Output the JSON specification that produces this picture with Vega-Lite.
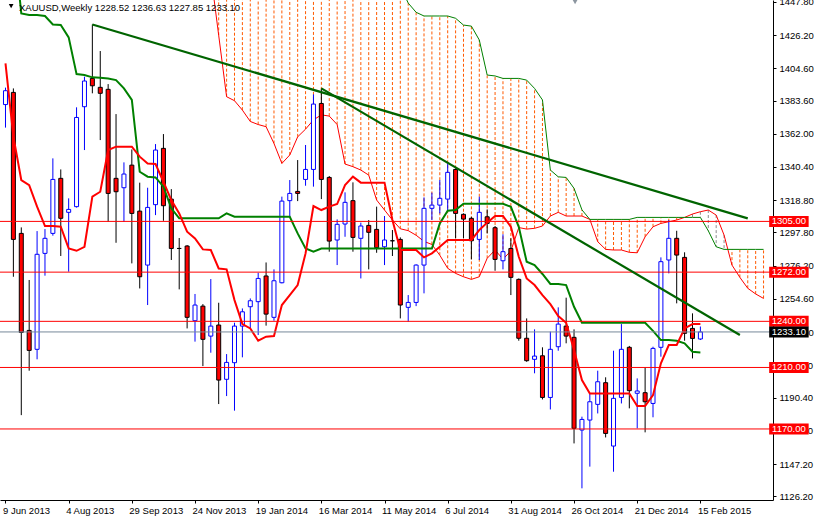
{
  "$schema": "https://vega.github.io/schema/vega-lite/v6.json",
  "width": 773,
  "height": 500,
  "autosize": {"type": "none"},
  "padding": {"left": 0, "top": 0, "right": 41, "bottom": 16},
  "background": "white",
  "config": {
    "view": {"stroke": null},
    "text": {"font": "Liberation Sans"},
    "axis": {"labelOverlap": false, "labelFlush": false}
  },
  "datasets": {
    "bars": [
      {"d":"2013-06-09","o":1381,"h":1392,"l":1366,"c":1390,"t":1407.8,"k":1490},
      {"d":"2013-06-16","o":1388.9,"h":1391.5,"l":1269.0,"c":1293.3,"t":1360.1,"k":1490},
      {"d":"2013-06-23","o":1297.2,"h":1301.1,"l":1179.0,"c":1232.8,"t":1331.9,"k":1440.3},
      {"d":"2013-06-30","o":1234.1,"h":1266.9,"l":1207.9,"c":1221.1,"t":1328.6,"k":1439.2},
      {"d":"2013-07-07","o":1221.8,"h":1298.7,"l":1215.3,"c":1283.6,"t":1314.6,"k":1439.2},
      {"d":"2013-07-14","o":1284.2,"h":1300.0,"l":1269.7,"c":1294.0,"t":1302.0,"k":1438.6},
      {"d":"2013-07-21","o":1297.2,"h":1346.0,"l":1295.7,"c":1332.3,"t":1302.0,"k":1433.1},
      {"d":"2013-07-28","o":1333.0,"h":1338.8,"l":1282.5,"c":1307.0,"t":1301.6,"k":1432.7},
      {"d":"2013-08-04","o":1310.9,"h":1320.0,"l":1272.3,"c":1312.8,"t":1287.4,"k":1424.7},
      {"d":"2013-08-11","o":1314.6,"h":1379.2,"l":1314.0,"c":1372.6,"t":1285.9,"k":1400.8},
      {"d":"2013-08-18","o":1379.6,"h":1399.1,"l":1351.4,"c":1396.3,"t":1288.5,"k":1400.2},
      {"d":"2013-08-25","o":1398.0,"h":1433.1,"l":1388.3,"c":1393.2,"t":1321.1,"k":1398.7},
      {"d":"2013-09-01","o":1392.2,"h":1415.8,"l":1357.9,"c":1388.3,"t":1324.3,"k":1398.5},
      {"d":"2013-09-08","o":1390.9,"h":1394.3,"l":1304.8,"c":1323.2,"t":1351.4,"k":1398.0},
      {"d":"2013-09-15","o":1333.0,"h":1374.8,"l":1291.1,"c":1324.3,"t":1353.6,"k":1396.9},
      {"d":"2013-09-22","o":1326.9,"h":1343.4,"l":1304.8,"c":1335.8,"t":1353.6,"k":1391.5},
      {"d":"2013-09-29","o":1341.6,"h":1351.8,"l":1277.7,"c":1310.2,"t":1353.6,"k":1384.0},
      {"d":"2013-10-06","o":1311.7,"h":1330.2,"l":1261.4,"c":1269.0,"t":1347.1,"k":1337.3},
      {"d":"2013-10-13","o":1276.6,"h":1326.9,"l":1250.6,"c":1314.1,"t":1342.7,"k":1334.1},
      {"d":"2013-10-20","o":1315.9,"h":1355.3,"l":1309.1,"c":1351.4,"t":1342.3,"k":1333.6},
      {"d":"2013-10-27","o":1352.5,"h":1361.8,"l":1305.4,"c":1315.2,"t":1330.8,"k":1327.6},
      {"d":"2013-11-03","o":1319.5,"h":1326.0,"l":1279.9,"c":1287.4,"t":1318.9,"k":1313.5},
      {"d":"2013-11-10","o":1287.4,"h":1294.2,"l":1260.8,"c":1287.4,"t":1310.2,"k":1307.0},
      {"d":"2013-11-17","o":1289.0,"h":1289.6,"l":1235.4,"c":1242.6,"t":1298.3,"k":1307.0},
      {"d":"2013-11-24","o":1240.4,"h":1257.8,"l":1226.8,"c":1250.6,"t":1293.9,"k":1307.0},
      {"d":"2013-12-01","o":1249.9,"h":1251.2,"l":1210.9,"c":1228.3,"t":1286.8,"k":1307.0},
      {"d":"2013-12-08","o":1230.4,"h":1267.5,"l":1219.6,"c":1236.9,"t":1286.4,"k":1307.0,"sa":1466,"sb":1470},
      {"d":"2013-12-15","o":1237.6,"h":1252.1,"l":1186.2,"c":1201.8,"t":1274.4,"k":1307.0,"sa":1426,"sb":1470},
      {"d":"2013-12-22","o":1202.3,"h":1218.7,"l":1191.4,"c":1213.3,"t":1273.8,"k":1310.2,"sa":1386.1,"sb":1470},
      {"d":"2013-12-29","o":1213.1,"h":1239.1,"l":1181.9,"c":1236.9,"t":1253.8,"k":1308.0,"sa":1383.5,"sb":1470},
      {"d":"2014-01-05","o":1236.9,"h":1248.4,"l":1216.6,"c":1246.2,"t":1238.2,"k":1308.0,"sa":1377.4,"sb":1470},
      {"d":"2014-01-12","o":1249.5,"h":1254.9,"l":1235.4,"c":1253.4,"t":1235.4,"k":1308.0,"sa":1370,"sb":1470},
      {"d":"2014-01-19","o":1252.8,"h":1271.6,"l":1231.1,"c":1267.9,"t":1227.4,"k":1308.0,"sa":1368,"sb":1470},
      {"d":"2014-01-26","o":1269.5,"h":1278.3,"l":1237.2,"c":1244.7,"t":1230.0,"k":1308.0,"sa":1366.6,"sb":1470},
      {"d":"2014-02-02","o":1242.6,"h":1273.8,"l":1240.4,"c":1266.4,"t":1230.4,"k":1308.0,"sa":1355.7,"sb":1470},
      {"d":"2014-02-09","o":1265.1,"h":1321.1,"l":1264.7,"c":1318.2,"t":1250.6,"k":1308.0,"sa":1342.7,"sb":1470},
      {"d":"2014-02-16","o":1318.5,"h":1331.9,"l":1308.0,"c":1323.2,"t":1257.1,"k":1308.0,"sa":1348.2,"sb":1470},
      {"d":"2014-02-23","o":1324.5,"h":1344.9,"l":1318.2,"c":1323.2,"t":1263.6,"k":1297.2,"sa":1360,"sb":1470},
      {"d":"2014-03-02","o":1332.3,"h":1354.7,"l":1328.2,"c":1338.8,"t":1284.2,"k":1287.4,"sa":1365,"sb":1470},
      {"d":"2014-03-09","o":1338.8,"h":1387.6,"l":1327.6,"c":1381.3,"t":1315.0,"k":1285.3,"sa":1371,"sb":1470},
      {"d":"2014-03-16","o":1381.7,"h":1391.5,"l":1319.5,"c":1332.3,"t":1312.4,"k":1287.4,"sa":1374.3,"sb":1470},
      {"d":"2014-03-23","o":1333.6,"h":1334.5,"l":1285.3,"c":1292.2,"t":1314.6,"k":1287.4,"sa":1373.5,"sb":1470},
      {"d":"2014-03-30","o":1292.9,"h":1306.3,"l":1276.6,"c":1303.1,"t":1316.3,"k":1287.4,"sa":1368,"sb":1470},
      {"d":"2014-04-06","o":1303.3,"h":1323.9,"l":1295.0,"c":1317.4,"t":1328.6,"k":1287.4,"sa":1342.3,"sb":1470},
      {"d":"2014-04-13","o":1318.5,"h":1330.4,"l":1285.3,"c":1294.6,"t":1334.1,"k":1287.4,"sa":1340.6,"sb":1470},
      {"d":"2014-04-20","o":1294.0,"h":1304.2,"l":1267.9,"c":1302.0,"t":1330.2,"k":1287.4,"sa":1338.4,"sb":1470},
      {"d":"2014-04-27","o":1302.4,"h":1305.9,"l":1273.8,"c":1297.9,"t":1330.2,"k":1287.4,"sa":1335.1,"sb":1470},
      {"d":"2014-05-04","o":1299.8,"h":1314.6,"l":1284.6,"c":1287.9,"t":1330.2,"k":1287.4,"sa":1318.9,"sb":1470},
      {"d":"2014-05-11","o":1288.5,"h":1308.5,"l":1276.6,"c":1292.9,"t":1330.2,"k":1287.4,"sa":1312.4,"sb":1470},
      {"d":"2014-05-18","o":1292.4,"h":1299.4,"l":1282.5,"c":1292.4,"t":1305.9,"k":1287.4,"sa":1305.9,"sb":1470},
      {"d":"2014-05-25","o":1293.3,"h":1294.6,"l":1241.9,"c":1250.6,"t":1286.4,"k":1287.4,"sa":1300.2,"sb":1458},
      {"d":"2014-06-01","o":1249.1,"h":1257.1,"l":1239.8,"c":1252.3,"t":1286.4,"k":1287.4,"sa":1299,"sb":1447},
      {"d":"2014-06-08","o":1252.3,"h":1277.1,"l":1249.9,"c":1276.6,"t":1286.4,"k":1287.4,"sa":1296,"sb":1441},
      {"d":"2014-06-15","o":1276.6,"h":1320.6,"l":1258.2,"c":1313.5,"t":1281.6,"k":1287.4,"sa":1292,"sb":1438.6},
      {"d":"2014-06-22","o":1313.5,"h":1323.7,"l":1305.9,"c":1315.6,"t":1284.2,"k":1287.4,"sa":1290,"sb":1438.6},
      {"d":"2014-06-29","o":1315.6,"h":1331.9,"l":1310.2,"c":1320.0,"t":1288.5,"k":1303.7,"sa":1283,"sb":1438.6},
      {"d":"2014-07-06","o":1319.5,"h":1342.7,"l":1312.4,"c":1336.9,"t":1292.9,"k":1312.0,"sa":1274.5,"sb":1438.6},
      {"d":"2014-07-13","o":1338.8,"h":1339.5,"l":1294.0,"c":1310.2,"t":1292.9,"k":1312.4,"sa":1271.2,"sb":1437.1},
      {"d":"2014-07-20","o":1309.6,"h":1310.2,"l":1294.0,"c":1306.5,"t":1292.9,"k":1316.5,"sa":1269,"sb":1432.7},
      {"d":"2014-07-27","o":1307.0,"h":1308.0,"l":1280.3,"c":1292.4,"t":1292.9,"k":1316.5,"sa":1267.3,"sb":1432.0},
      {"d":"2014-08-03","o":1293.3,"h":1321.1,"l":1279.9,"c":1310.9,"t":1299.4,"k":1316.5,"sa":1269,"sb":1423},
      {"d":"2014-08-10","o":1308.0,"h":1312.8,"l":1297.2,"c":1303.7,"t":1304.2,"k":1316.5,"sa":1281,"sb":1400.2},
      {"d":"2014-08-17","o":1300.9,"h":1302.0,"l":1272.9,"c":1280.3,"t":1308.5,"k":1316.5,"sa":1286.4,"sb":1399.6},
      {"d":"2014-08-24","o":1279.4,"h":1296.6,"l":1273.8,"c":1285.3,"t":1308.5,"k":1316.5,"sa":1280.4,"sb":1398.0},
      {"d":"2014-08-31","o":1287.4,"h":1294.0,"l":1257.1,"c":1268.6,"t":1301.5,"k":1314.5,"sa":1285.8,"sb":1398.0},
      {"d":"2014-09-07","o":1267.3,"h":1267.9,"l":1227.4,"c":1229.0,"t":1282.0,"k":1301.5,"sa":1301,"sb":1398.0},
      {"d":"2014-09-14","o":1229.0,"h":1241.9,"l":1213.7,"c":1214.4,"t":1267.9,"k":1278.8,"sa":1300,"sb":1396.9},
      {"d":"2014-09-21","o":1215.3,"h":1234.8,"l":1206.2,"c":1217.4,"t":1263.6,"k":1276.6,"sa":1300.5,"sb":1391.5},
      {"d":"2014-09-28","o":1217.6,"h":1223.1,"l":1189.2,"c":1190.5,"t":1257.1,"k":1270.8,"sa":1302,"sb":1384},
      {"d":"2014-10-05","o":1190.5,"h":1233.3,"l":1182.7,"c":1221.8,"t":1251.2,"k":1264.3,"sa":1308.5,"sb":1338.4},
      {"d":"2014-10-12","o":1223.5,"h":1249.1,"l":1220.9,"c":1238.2,"t":1243.4,"k":1264.3,"sa":1310.9,"sb":1334.0},
      {"d":"2014-10-19","o":1236.9,"h":1255.4,"l":1225.7,"c":1230.4,"t":1239.1,"k":1263.6,"sa":1308.5,"sb":1333.6},
      {"d":"2014-10-26","o":1229.6,"h":1234.8,"l":1160.6,"c":1170.4,"t":1221.3,"k":1249.5,"sa":1308.5,"sb":1326.5},
      {"d":"2014-11-02","o":1169.3,"h":1178.0,"l":1131.4,"c":1176.2,"t":1201.8,"k":1239.1,"sa":1308.5,"sb":1312.5},
      {"d":"2014-11-09","o":1175.8,"h":1193.2,"l":1145.5,"c":1187.7,"t":1193.1,"k":1239.1,"sa":1306.3,"sb":1306.3},
      {"d":"2014-11-16","o":1186.0,"h":1207.9,"l":1180.1,"c":1200.7,"t":1193.1,"k":1239.1,"sa":1291.8,"sb":1306.3},
      {"d":"2014-11-23","o":1200.1,"h":1203.6,"l":1164.5,"c":1167.1,"t":1193.1,"k":1239.1,"sa":1286.8,"sb":1306.3},
      {"d":"2014-11-30","o":1158.9,"h":1220.9,"l":1142.2,"c":1189.9,"t":1193.1,"k":1239.1,"sa":1286.4,"sb":1306.3},
      {"d":"2014-12-07","o":1190.5,"h":1238.2,"l":1186.6,"c":1221.8,"t":1193.1,"k":1239.1,"sa":1286.4,"sb":1306.3},
      {"d":"2014-12-14","o":1223.1,"h":1224.0,"l":1183.4,"c":1194.9,"t":1193.1,"k":1239.1,"sa":1284.9,"sb":1306.3},
      {"d":"2014-12-21","o":1193.2,"h":1202.9,"l":1170.4,"c":1194.7,"t":1184.9,"k":1239.1,"sa":1284.6,"sb":1307.6},
      {"d":"2014-12-28","o":1193.6,"h":1210.0,"l":1167.8,"c":1187.7,"t":1184.9,"k":1239.1,"sa":1295,"sb":1307.6},
      {"d":"2015-01-04","o":1186.6,"h":1223.5,"l":1177.6,"c":1222.4,"t":1192,"k":1233.8,"sa":1301.5,"sb":1307.6},
      {"d":"2015-01-11","o":1223.1,"h":1281.6,"l":1217.0,"c":1278.8,"t":1212.7,"k":1227.8,"sa":1303.7,"sb":1307.6},
      {"d":"2015-01-18","o":1279.9,"h":1305.9,"l":1271.2,"c":1294.0,"t":1224.6,"k":1227.8,"sa":1304.8,"sb":1307.6},
      {"d":"2015-01-25","o":1294.0,"h":1298.9,"l":1251.7,"c":1283.1,"t":1224.6,"k":1227.4,"sa":1305.9,"sb":1307.6},
      {"d":"2015-02-01","o":1281.6,"h":1284.9,"l":1227.4,"c":1232.2,"t":1235.4,"k":1225.7,"sa":1307.6,"sb":1307.6},
      {"d":"2015-02-08","o":1235.4,"h":1245.2,"l":1215.9,"c":1228.9,"t":1238.2,"k":1220.2,"sa":1309.8,"sb":1307.6},
      {"d":"2015-02-15","o":1228.52,"h":1236.63,"l":1227.85,"c":1233.10,"t":1238.2,"k":1219.8,"sa":1311.3,"sb":1307.6},
      {"d":"2015-02-22","sa":1312.4,"sb":1298.9},
      {"d":"2015-03-01","sa":1309.1,"sb":1288.5},
      {"d":"2015-03-08","sa":1296.1,"sb":1286.8},
      {"d":"2015-03-15","sa":1276.6,"sb":1286.8},
      {"d":"2015-03-22","sa":1268.6,"sb":1286.8},
      {"d":"2015-03-29","sa":1261.5,"sb":1286.8},
      {"d":"2015-04-05","sa":1257.8,"sb":1286.8},
      {"d":"2015-04-12","sa":1254.9,"sb":1286.8}
    ],
    "levels": [
      {"lv":1305,"txt":"1305.00","kind":"r"},
      {"lv":1272,"txt":"1272.00","kind":"r"},
      {"lv":1240,"txt":"1240.00","kind":"r"},
      {"lv":1210,"txt":"1210.00","kind":"r"},
      {"lv":1170,"txt":"1170.00","kind":"r"},
      {"lv":1233.1,"txt":"1233.10","kind":"g"}
    ],
    "trends": [
      {"id":1,"d":"2013-08-25","p":1433.1},
      {"id":1,"d":"2015-03-29","p":1307.0},
      {"id":2,"d":"2014-03-16","p":1391.5},
      {"id":2,"d":"2015-03-22","p":1231.1}
    ]
  },
  "layer": [
    {
      "data": {"name": "bars"},
      "transform": [{"filter": "isValid(datum.sa)"}],
      "mark": {"type": "rule", "clip": true, "strokeWidth": 1, "strokeDash": [3, 2]},
      "encoding": {
        "x": {"field": "d", "type": "temporal", "title": null,
          "scale": {"type": "utc", "domain": [1370698200000, 1429137000000]},
          "axis": {
            "values": [
              {"year":2013,"month":6,"date":9,"utc":true},
              {"year":2013,"month":8,"date":4,"utc":true},
              {"year":2013,"month":9,"date":29,"utc":true},
              {"year":2013,"month":11,"date":24,"utc":true},
              {"year":2014,"month":1,"date":19,"utc":true},
              {"year":2014,"month":3,"date":16,"utc":true},
              {"year":2014,"month":5,"date":11,"utc":true},
              {"year":2014,"month":7,"date":6,"utc":true},
              {"year":2014,"month":8,"date":31,"utc":true},
              {"year":2014,"month":10,"date":26,"utc":true},
              {"year":2014,"month":12,"date":21,"utc":true},
              {"year":2015,"month":2,"date":15,"utc":true}
            ],
            "tickCount": 30,
            "format": "%-d %b %Y", "labelAlign": "left", "labelOffset": -3, "labelFont": "Liberation Sans",
            "labelFontSize": 9.5, "labelColor": "#000000", "tickColor": "#000000",
            "domainColor": "#000000", "tickSize": 3, "labelPadding": 2, "grid": false,
            "labelOverlap": false, "labelFlush": false, "title": null
          }
        },
        "y": {"field": "sa", "type": "quantitative", "title": null,
          "scale": {"domain": [1123.8, 1449.0], "zero": false, "nice": false},
          "axis": {
            "orient": "right",
            "values": [1126.2,1147.2,1168.8,1190.4,1211.4,1233.0,1254.6,1276.2,1297.8,1318.8,1340.4,1362.0,1383.6,1404.6,1426.2,1447.8],
            "tickCount": 30,
            "format": ".2f", "labelFont": "Liberation Sans", "labelFontSize": 9.5,
            "labelColor": "#000000", "tickColor": "#000000", "domainColor": "#000000",
            "tickSize": 3, "labelPadding": 3, "grid": false, "title": null,
            "labelOverlap": false, "labelFlush": false, "labelBound": false
          }
        },
        "y2": {"field": "sb"},
        "color": {"condition": {"test": "datum.sa > datum.sb", "value": "#8C8C8C"}, "value": "#FF5A00"}
      }
    },
    {
      "data": {"name": "bars"},
      "transform": [{"filter": "isValid(datum.sa)"}],
      "mark": {"type": "line", "clip": true, "strokeWidth": 1, "color": "#FF0000"},
      "encoding": {
        "x": {"field": "d", "type": "temporal", "title": null, "scale": {"type": "utc", "domain": [1370698200000, 1429137000000]}},
        "y": {"field": "sa", "type": "quantitative", "title": null, "scale": {"domain": [1123.8, 1449.0], "zero": false, "nice": false}}
      }
    },
    {
      "data": {"name": "bars"},
      "transform": [{"filter": "isValid(datum.sb)"}],
      "mark": {"type": "line", "clip": true, "strokeWidth": 1, "color": "#008000"},
      "encoding": {
        "x": {"field": "d", "type": "temporal", "title": null, "scale": {"type": "utc", "domain": [1370698200000, 1429137000000]}},
        "y": {"field": "sb", "type": "quantitative", "title": null, "scale": {"domain": [1123.8, 1449.0], "zero": false, "nice": false}}
      }
    },
    {
      "data": {"name": "bars"},
      "transform": [{"filter": "isValid(datum.o)"}],
      "mark": {"type": "rule", "clip": true, "strokeWidth": 1},
      "encoding": {
        "x": {"field": "d", "type": "temporal", "title": null, "scale": {"type": "utc", "domain": [1370698200000, 1429137000000]}},
        "y": {"field": "l", "type": "quantitative", "title": null, "scale": {"domain": [1123.8, 1449.0], "zero": false, "nice": false}},
        "y2": {"field": "h"},
        "color": {"condition": {"test": "datum.c > datum.o", "value": "#0000FF"}, "value": "#000000"}
      }
    },
    {
      "data": {"name": "bars"},
      "transform": [{"filter": "isValid(datum.o)"}],
      "mark": {"type": "bar", "clip": true, "size": 4, "strokeWidth": 1},
      "encoding": {
        "x": {"field": "d", "type": "temporal", "title": null, "scale": {"type": "utc", "domain": [1370698200000, 1429137000000]}},
        "y": {"field": "o", "type": "quantitative", "title": null, "scale": {"domain": [1123.8, 1449.0], "zero": false, "nice": false}},
        "y2": {"field": "c"},
        "fill": {"condition": [{"test": "datum.c > datum.o", "value": "#FFFFFF"}, {"test": "datum.c < datum.o", "value": "#FF0000"}], "value": "#000000"},
        "stroke": {"condition": {"test": "datum.c > datum.o", "value": "#0000FF"}, "value": "#000000"}
      }
    },
    {
      "data": {"name": "bars"},
      "transform": [{"filter": "isValid(datum.k)"}],
      "mark": {"type": "line", "clip": true, "strokeWidth": 2, "color": "#008000"},
      "encoding": {
        "x": {"field": "d", "type": "temporal", "title": null, "scale": {"type": "utc", "domain": [1370698200000, 1429137000000]}},
        "y": {"field": "k", "type": "quantitative", "title": null, "scale": {"domain": [1123.8, 1449.0], "zero": false, "nice": false}}
      }
    },
    {
      "data": {"name": "bars"},
      "transform": [{"filter": "isValid(datum.t)"}],
      "mark": {"type": "line", "clip": true, "strokeWidth": 2, "color": "#FF0000"},
      "encoding": {
        "x": {"field": "d", "type": "temporal", "title": null, "scale": {"type": "utc", "domain": [1370698200000, 1429137000000]}},
        "y": {"field": "t", "type": "quantitative", "title": null, "scale": {"domain": [1123.8, 1449.0], "zero": false, "nice": false}}
      }
    },
    {
      "data": {"name": "levels"},
      "mark": {"type": "rule", "strokeWidth": 1},
      "encoding": {
        "y": {"field": "lv", "type": "quantitative", "title": null, "scale": {"domain": [1123.8, 1449.0], "zero": false, "nice": false}},
        "color": {"condition": {"test": "datum.kind == 'g'", "value": "#778899"}, "value": "#FF0000"}
      }
    },
    {
      "data": {"name": "trends"},
      "mark": {"type": "line", "clip": true, "strokeWidth": 2.2, "color": "#006400"},
      "encoding": {
        "x": {"field": "d", "type": "temporal", "title": null, "scale": {"type": "utc", "domain": [1370698200000, 1429137000000]}},
        "y": {"field": "p", "type": "quantitative", "title": null, "scale": {"domain": [1123.8, 1449.0], "zero": false, "nice": false}},
        "detail": {"field": "id", "type": "nominal"}
      }
    },
    {
      "data": {"name": "levels"},
      "mark": {"type": "rule", "strokeWidth": 11, "strokeCap": "butt"},
      "encoding": {
        "x": {"datum": {"year":2015,"month":4,"date":16,"hours":23,"minutes":16,"utc":true}, "type": "temporal"},
        "x2": {"datum": {"year":2015,"month":5,"date":21,"hours":23,"minutes":16,"utc":true}},
        "y": {"field": "lv", "type": "quantitative", "title": null, "scale": {"domain": [1123.8, 1449.0], "zero": false, "nice": false}},
        "color": {"condition": {"test": "datum.kind == 'g'", "value": "#000000"}, "value": "#FF0000"}
      }
    },
    {
      "data": {"name": "levels"},
      "mark": {"type": "text", "align": "center", "baseline": "middle", "font": "Liberation Sans", "fontSize": 9.5, "color": "#FFFFFF"},
      "encoding": {
        "x": {"datum": {"year":2015,"month":5,"date":4,"hours":11,"minutes":16,"utc":true}, "type": "temporal"},
        "y": {"field": "lv", "type": "quantitative", "title": null, "scale": {"domain": [1123.8, 1449.0], "zero": false, "nice": false}},
        "text": {"field": "txt"}
      }
    },
    {
      "data": {"values": [{"txt": "XAUUSD,Weekly  1228.52 1236.63 1227.85 1233.10"}]},
      "mark": {"type": "text", "align": "left", "baseline": "middle", "font": "Liberation Sans", "fontSize": 9.5, "color": "#000000"},
      "encoding": {
        "x": {"datum": {"year":2013,"month":6,"date":21,"utc":true}, "type": "temporal"},
        "y": {"datum": 1444.1, "type": "quantitative"},
        "text": {"field": "txt"}
      }
    },
    {
      "data": {"values": [{"m": "menu"}]},
      "mark": {"type": "point", "shape": "triangle-down", "filled": true, "size": 22, "color": "#000000", "opacity": 1},
      "encoding": {
        "x": {"datum": {"year":2013,"month":6,"date":14,"utc":true}, "type": "temporal"},
        "y": {"datum": 1445.0, "type": "quantitative"}
      }
    },
    {
      "data": {"values": [{"m": "shift"}]},
      "mark": {"type": "point", "shape": "triangle-down", "filled": true, "size": 45, "color": "#8C96A0", "opacity": 1},
      "encoding": {
        "x": {"datum": {"year":2014,"month":10,"date":26,"hours":22,"utc":true}, "type": "temporal"},
        "y": {"datum": 1448.2, "type": "quantitative"}
      }
    }
  ]
}
